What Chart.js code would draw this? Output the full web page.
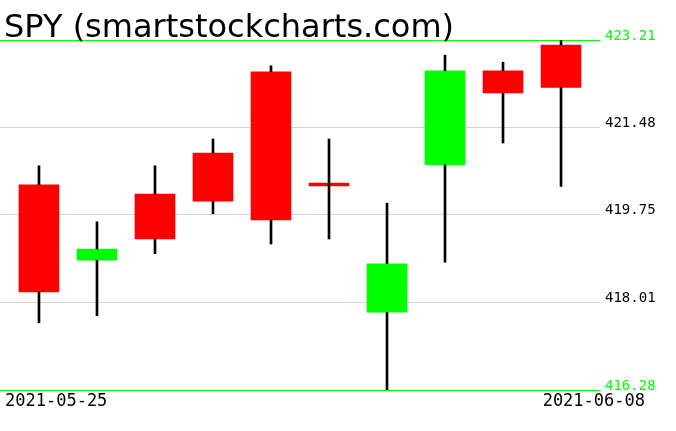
<!DOCTYPE html>
<html>
<head>
<meta charset="utf-8">
<script src="https://cdn.jsdelivr.net/npm/chart.js@4"></script>
<style>
  html, body { margin: 0; padding: 0; background: #fff; }
  #wrap { width: 676px; height: 431px; }
</style>
</head>
<body>
<div id="wrap"><canvas id="chart" width="676" height="431"></canvas></div>
<script>
const title = "SPY (smartstockcharts.com)";
const dates = ["2021-05-25", "2021-05-26", "2021-05-27", "2021-05-28", "2021-06-01",
  "2021-06-02", "2021-06-03", "2021-06-04", "2021-06-07", "2021-06-08"];
const opens = [420.34, 418.85, 420.16, 420.97, 422.58, 420.32, 417.82, 420.74, 422.60, 423.11];
const highs = [420.72, 419.61, 420.72, 421.25, 422.70, 421.25, 419.98, 422.91, 422.77, 423.21];
const lows = [417.61, 417.75, 418.98, 419.77, 419.17, 419.27, 416.28, 418.81, 421.17, 420.31];
const closes = [418.22, 419.07, 419.27, 420.02, 419.65, 420.32, 418.78, 422.60, 422.16, 422.27];
const yTicks = [416.28, 418.01, 419.75, 421.48, 423.21];

const yMin = yTicks[0];
const yMax = yTicks[yTicks.length - 1];
const isEdge = (v) => Math.abs(v - yMin) < 1e-6 || Math.abs(v - yMax) < 1e-6;

// title top-left and the first / last date under the plot
const textLayer = {
  id: "textLayer",
  afterDraw(chart) {
    const ctx = chart.ctx;
    const area = chart.chartArea;
    ctx.save();
    ctx.fillStyle = "#000";
    ctx.textBaseline = "alphabetic";
    ctx.textAlign = "left";
    ctx.font = "32px 'DejaVu Sans'";
    ctx.fillText(title, 4, area.top - 3);
    ctx.font = "17px 'DejaVu Sans Mono'";
    ctx.fillText(dates[0], 5, area.bottom + 16);
    ctx.textAlign = "right";
    ctx.fillText(dates[dates.length - 1], 645, area.bottom + 16);
    ctx.restore();
  }
};

const wick = (label, data) => ({
  label: label,
  data: data,
  backgroundColor: "#000",
  barThickness: 2,
  grouped: false,
  borderWidth: 0,
  order: 0
});

new Chart(document.getElementById("chart"), {
  type: "bar",
  data: {
    datasets: [
      // wicks above and below the body, drawn over it
      wick("upper", highs.map((h, i) => ({ x: i, y: [Math.max(opens[i], closes[i]), h] }))),
      wick("lower", lows.map((l, i) => ({ x: i, y: [l, Math.min(opens[i], closes[i])] }))),
      {
        label: "body",
        data: opens.map((o, i) => ({ x: i, y: [o, closes[i]] })),
        backgroundColor: opens.map((o, i) => closes[i] > o ? "#00ff00" : "#ff0000"),
        barThickness: 40,
        minBarLength: 3,
        grouped: false,
        borderWidth: 0,
        order: 1
      }
    ]
  },
  options: {
    responsive: false,
    animation: false,
    layout: { padding: { left: 0, right: 0, top: 40, bottom: 41 } },
    plugins: {
      legend: { display: false },
      tooltip: { enabled: false }
    },
    scales: {
      x: {
        type: "linear",
        display: false,
        offset: false,
        min: -0.672,
        max: 9.672
      },
      y: {
        position: "right",
        min: yMin,
        max: yMax,
        z: 1,
        afterBuildTicks(scale) {
          scale.ticks = yTicks.map((v) => ({ value: v }));
        },
        afterFit(scale) {
          scale.width = 76;
        },
        border: { display: false },
        grid: {
          drawTicks: false,
          color: (c) => isEdge(c.tick.value) ? "#00ff00" : "#d3d3d3",
          lineWidth: 1
        },
        ticks: {
          padding: 5,
          labelOffset: -4,
          font: { family: "'DejaVu Sans Mono'", size: 14 },
          color: (c) => isEdge(c.tick.value) ? "#00ff00" : "#000",
          callback: (v) => Number(v).toFixed(2)
        }
      }
    }
  },
  plugins: [textLayer]
});
</script>
</body>
</html>
